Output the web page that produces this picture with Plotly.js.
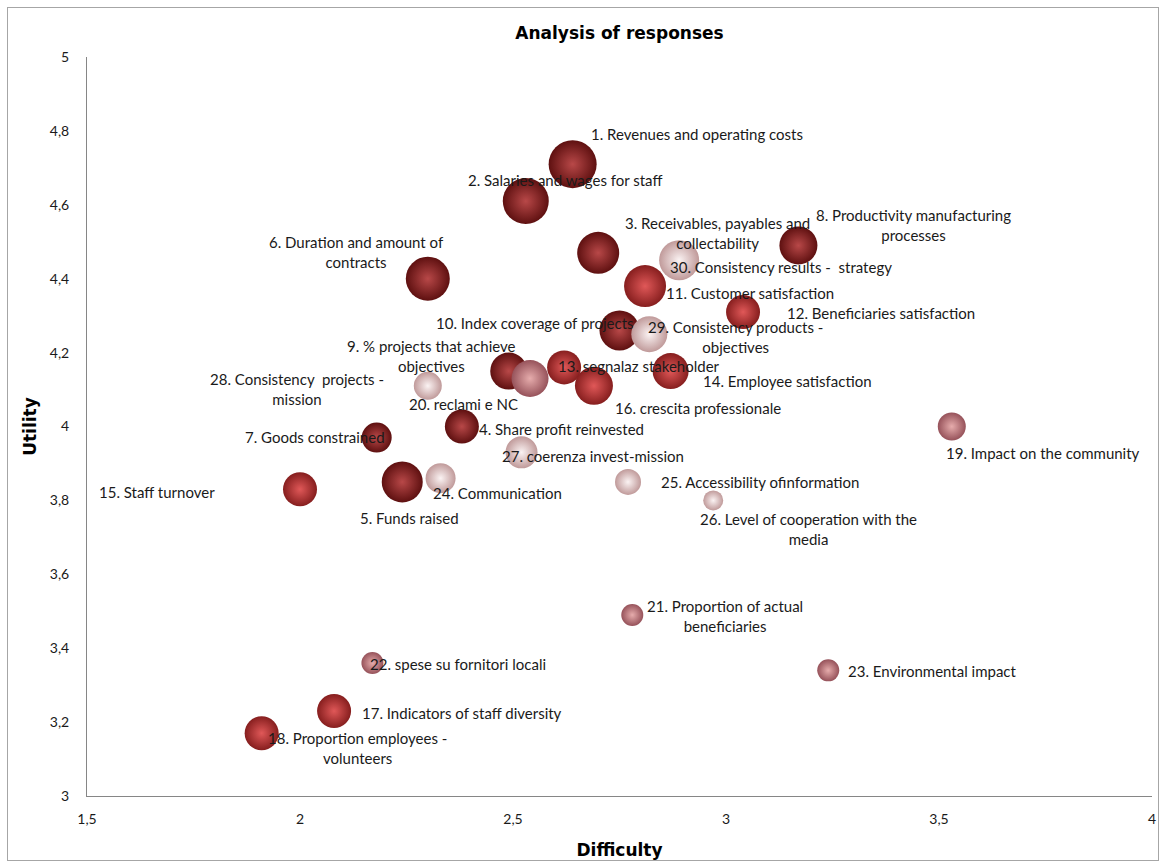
<!DOCTYPE html>
<html>
<head>
<meta charset="utf-8">
<script src="https://cdn.plot.ly/plotly-3.0.1.min.js"></script>
<style>
  html, body { margin: 0; padding: 0; background: #ffffff; }
  #wrap { position: relative; width: 1164px; height: 868px; }
  #chart { width: 1164px; height: 868px; }
  #frame { position: absolute; left: 7px; top: 7px; width: 1150px; height: 852px;
           border: 1px solid #a6a6a6; pointer-events: none; }
</style>
</head>
<body>
<div id="wrap">
  <div id="chart"></div>
  <div id="frame"></div>
</div>
<script>
// ---- data ----
const labels = [
  "1. Revenues and operating costs",
  "2. Salaries and wages for staff",
  "3. Receivables, payables and<br>collectability",
  "4. Share profit reinvested",
  "5. Funds raised",
  "6. Duration and amount of<br>contracts",
  "7. Goods constrained",
  "8. Productivity manufacturing<br>processes",
  "9. % projects that achieve<br>objectives",
  "10. Index coverage of projects",
  "11. Customer satisfaction",
  "12. Beneficiaries satisfaction",
  "13. segnalaz stakeholder",
  "14. Employee satisfaction",
  "15. Staff turnover",
  "16. crescita professionale",
  "17. Indicators of staff diversity",
  "18. Proportion employees -<br>volunteers",
  "19. Impact on the community",
  "20. reclami e NC",
  "21. Proportion of actual<br>beneficiaries",
  "22. spese su fornitori locali",
  "23. Environmental impact",
  "24. Communication",
  "25. Accessibility ofinformation",
  "26. Level of cooperation with the<br>media",
  "27. coerenza invest-mission",
  "28. Consistency  projects -<br>mission",
  "29. Consistency products -<br>objectives",
  "30. Consistency results -  strategy"
];
const difficulty = [2.64, 2.53, 2.70, 2.38, 2.24, 2.30, 2.18, 3.17, 2.49, 2.75,
                    2.81, 3.04, 2.62, 2.87, 2.00, 2.69, 2.08, 1.91, 3.53, 2.54,
                    2.78, 2.17, 3.24, 2.33, 2.77, 2.97, 2.52, 2.30, 2.82, 2.89];
const utility    = [4.71, 4.61, 4.47, 4.00, 3.85, 4.40, 3.97, 4.49, 4.15, 4.26,
                    4.38, 4.31, 4.16, 4.15, 3.83, 4.11, 3.23, 3.17, 4.00, 4.13,
                    3.49, 3.36, 3.34, 3.86, 3.85, 3.80, 3.93, 4.11, 4.25, 4.45];
const bubbleSize = [48, 46, 42, 34, 41, 44, 30, 38, 37, 40,
                    42, 34, 34, 36, 34, 38, 34, 34, 28, 37,
                    22, 22, 22, 30, 26, 20, 32, 28, 36, 40];
const group      = ["A","A","A","A","A","A","A","A","A","A",
                    "B","B","B","B","B","B","B","B","C","C",
                    "C","C","C","D","D","D","D","D","D","D"];
const xTicks = [1.5, 2, 2.5, 3, 3.5, 4];
const yTicks = [3, 3.2, 3.4, 3.6, 3.8, 4, 4.2, 4.4, 4.6, 4.8, 5];

// ---- styles ----
// edge = marker colour, center = radial gradient colour (Plotly: gradient colour is the centre)
const groupStyle = {
  A: { center: "#b84848", edge: "#5e1010" },
  B: { center: "#e05858", edge: "#861e1e" },
  C: { center: "#e6acac", edge: "#96525a" },
  D: { center: "#fbf3f3", edge: "#c09a9a" }
};
// label offsets in screen pixels (dx right, dy down)
const labelOffset = [
  [124,-30],[39,-21],[119,-20],[100,2],[7,36],[-71,-27],[-62,-1],[115,-20],[-77,-15],[-85,-7],
  [105,7],[138,1],[75,-1],[117,10],[-143,3],[104,22],[128,2],[96,15],[91,26],[-67,26],
  [93,1],[86,1],[104,1],[57,15],[132,0],[95,29],[71,4],[-131,3],[86,3],[102,7]
];

const labelFont = { family: "Lato, 'Liberation Sans', sans-serif", size: 15, color: "#1a1a1a" };
const titleFont = { family: "'DejaVu Sans', Verdana, sans-serif", size: 17, color: "#000", weight: "bold" };

const trace = {
  type: "scatter",
  mode: "markers",
  x: difficulty,
  y: utility,
  text: labels,
  hoverinfo: "text",
  marker: {
    size: bubbleSize,
    sizemode: "diameter",
    color: group.map(g => groupStyle[g].edge),
    gradient: { type: "radial", color: group.map(g => groupStyle[g].center) },
    line: { width: 0 },
    opacity: 1
  },
  showlegend: false
};

const annotations = labels.map((t, i) => ({
  x: difficulty[i], y: utility[i], xref: "x", yref: "y",
  text: t, showarrow: false, align: "center",
  xanchor: "center", yanchor: "middle",
  xshift: labelOffset[i][0], yshift: -labelOffset[i][1],
  font: labelFont
}));

const layout = {
  width: 1164, height: 868,
  paper_bgcolor: "#ffffff", plot_bgcolor: "#ffffff",
  margin: { l: 87, r: 12, t: 57, b: 72 },
  separators: ", ",
  title: {
    text: "Analysis of responses",
    font: titleFont,
    xref: "paper", x: 0.5, xanchor: "center",
    yref: "container", y: 0.962, yanchor: "middle"
  },
  xaxis: {
    range: [1.5, 4], tickvals: xTicks, tickformat: ".1~f",
    showgrid: false, zeroline: false, showline: true, linecolor: "#868686", linewidth: 1,
    ticks: "", ticklabelstandoff: 10,
    tickfont: { family: "Lato, 'Liberation Sans', sans-serif", size: 14, color: "#1a1a1a" },
    title: { text: "Difficulty", standoff: 18, font: titleFont }
  },
  yaxis: {
    range: [3, 5], tickvals: yTicks, tickformat: ".1~f",
    showgrid: false, zeroline: false, showline: true, linecolor: "#868686", linewidth: 1,
    ticks: "", ticklabelstandoff: 14,
    tickfont: { family: "Lato, 'Liberation Sans', sans-serif", size: 14, color: "#1a1a1a" },
    title: { text: "Utility", standoff: 8, font: titleFont }
  },
  annotations: annotations
};

Plotly.newPlot("chart", [trace], layout, { displayModeBar: false, staticPlot: true });
</script>
</body>
</html>
